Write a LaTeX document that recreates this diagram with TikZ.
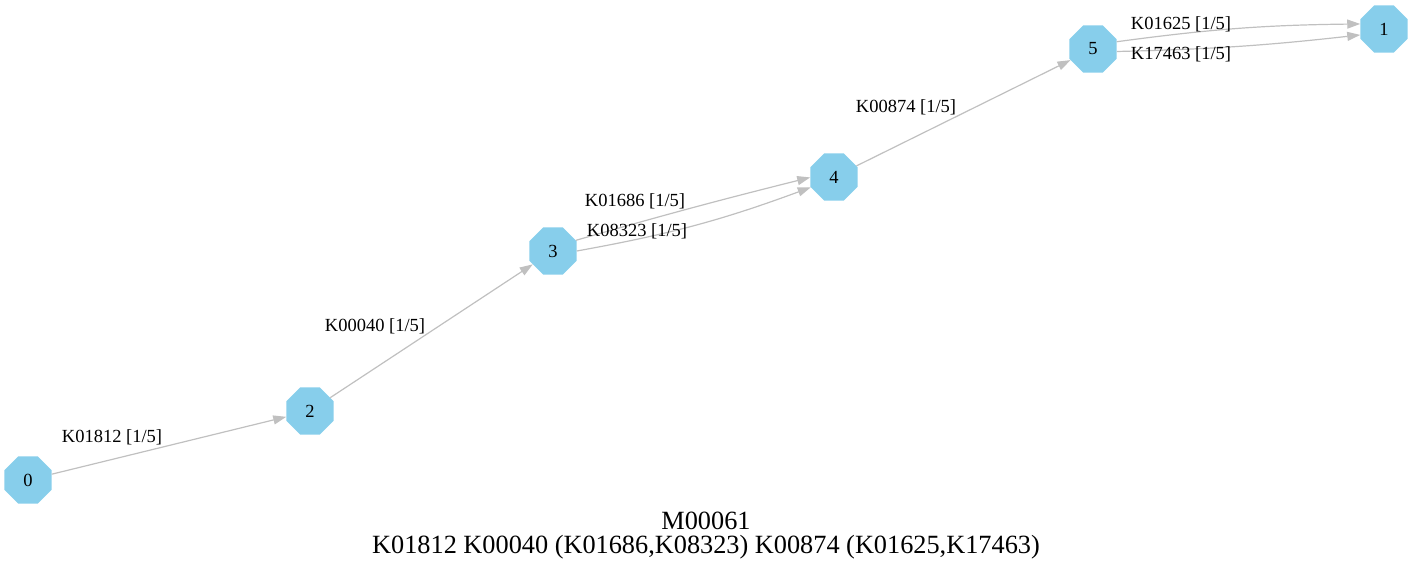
\documentclass[tikz,border=0pt]{standalone}
\usepackage{fontspec}
\setmainfont{Liberation Serif}
\usetikzlibrary{shapes.geometric,arrows.meta}
\definecolor{skyblue}{HTML}{87CEEB}
\definecolor{edgegray}{HTML}{C0C0C0}

\begin{document}
\begin{tikzpicture}[x=1pt,y=-1pt,
                   vertex/.style={regular polygon,regular polygon sides=8,minimum size=51pt,inner sep=0pt,fill=skyblue,font=\fontsize{18.5}{20}\selectfont},
                   edge/.style={edgegray,line width=1.2pt,-{Triangle[length=13pt,width=9pt]}},
                   lbl/.style={font=\fontsize{18.5}{20}\selectfont,inner sep=0pt},
                   title/.style={font=\fontsize{26.3}{28}\selectfont,inner sep=0pt,anchor=base}]
                   \useasboundingbox (0,0) rectangle (1413,572);

                   \node[vertex] (n0) at (28,480) {0};
                   \node[vertex] (n2) at (310,411) {2};
                   \node[vertex] (n3) at (553,251) {3};
                   \node[vertex] (n4) at (834,177) {4};
                   \node[vertex] (n5) at (1093,49) {5};
                   \node[vertex] (n1) at (1384,29) {1};

                   \draw[edge] (n0) -- (n2);
                   \draw[edge] (n2) -- (n3);
                   \draw[edge] (n3.25) to[bend left=1] (n4.181);
                   \draw[edge] (n3.0) to[bend right=5] (n4.204);
                   \draw[edge] (n4) -- (n5);
                   \draw[edge] (n5.17) to[bend left=3.5] (n1.168);
                   \draw[edge] (n5.-6) to[bend right=2.5] (n1.194);

                   \node[lbl] (l02) at (112,437) {K01812 [1/5]};
                   \node[lbl] (l23) at (375,326) {K00040 [1/5]};
                   \node[lbl] (l34a) at (635,201) {K01686 [1/5]};
                   \node[lbl] (l34b) at (637,231) {K08323 [1/5]};
                   \node[lbl] (l45) at (906,107) {K00874 [1/5]};
                   \node[lbl] (l51a) at (1181,24) {K01625 [1/5]};
                   \node[lbl] (l51b) at (1181,54) {K17463 [1/5]};

                   \node[title] (t1) at (706,529) {M00061};
                   \node[title] (t2) at (706,553) {K01812 K00040 (K01686,K08323) K00874 (K01625,K17463)};

        \end{tikzpicture}
\end{document}
